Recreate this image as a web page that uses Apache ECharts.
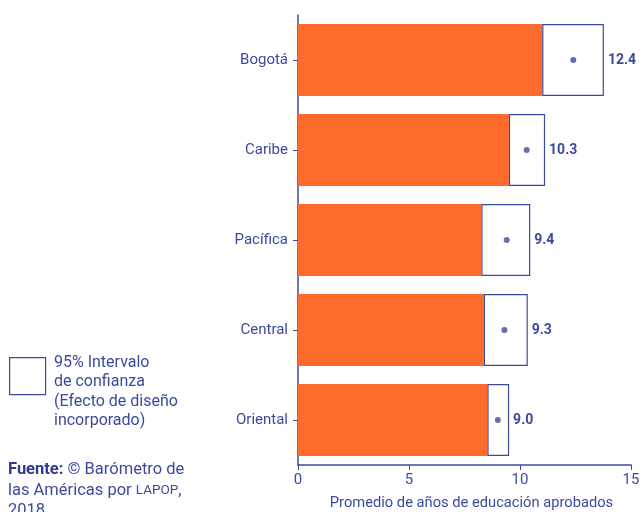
<!DOCTYPE html>
<html>
<head>
<meta charset="utf-8">
<script src="https://cdn.jsdelivr.net/npm/echarts@6/dist/echarts.min.js"></script>
<style>
  html, body { margin: 0; padding: 0; background: #fff; }
  #chart { width: 644px; height: 512px; }
</style>
</head>
<body>
<div id="chart"></div>
<script>
// regiones (de arriba a abajo)
var regiones = ['Bogotá', 'Caribe', 'Pacífica', 'Central', 'Oriental'];
// limite inferior del intervalo de confianza
var limiteInf = [11.0, 9.5, 8.26, 8.37, 8.53];
// limite superior del intervalo de confianza
var limiteSup = [13.78, 11.13, 10.46, 10.35, 9.51];
// promedio (punto y etiqueta)
var promedio = [12.4, 10.3, 9.4, 9.3, 9.0];
var ticksX = [0, 5, 10, 15];

var azul = '#3c4a9e';
var naranja = '#ff6b2c';

var myChart = echarts.init(document.getElementById('chart'));

var anchoIC = limiteSup.map(function (v, i) { return +(v - limiteInf[i]).toFixed(2); });

var option = {
    animation: false,
    grid: { left: 298, right: 13, top: 15, bottom: 47, outerBoundsMode: 'none', containLabel: false },
    xAxis: {
        type: 'value',
        min: ticksX[0],
        max: ticksX[ticksX.length - 1],
        interval: 5,
        name: 'Promedio de años de educación aprobados',
        nameLocation: 'middle',
        nameGap: 31,
        nameTextStyle: { color: azul, fontFamily: 'Roboto', fontSize: 14.7, padding: [0, 0, 0, 14] },
        axisLine: { show: true, lineStyle: { color: azul, width: 1.5 } },
        axisTick: { show: true, length: 5, lineStyle: { color: azul } },
        axisLabel: { color: azul, fontFamily: 'Roboto', fontSize: 15, margin: 8 },
        splitLine: { show: false }
    },
    yAxis: {
        type: 'category',
        data: regiones,
        inverse: true,
        axisLine: { show: true, lineStyle: { color: azul, width: 1.5 } },
        axisTick: { show: true, alignWithLabel: true, length: 5, lineStyle: { color: azul } },
        axisLabel: { color: azul, fontFamily: 'Roboto', fontSize: 15, margin: 10 }
    },
    series: [{
        type: 'bar',
        stack: 'total',
        barWidth: 72,
        data: limiteInf,
        itemStyle: { color: naranja }
    }, {
        type: 'bar',
        stack: 'total',
        barWidth: 72,
        data: anchoIC,
        itemStyle: { color: '#fff', borderColor: azul, borderWidth: 1.2 },
        label: {
            show: true,
            position: 'right',
            distance: 4,
            color: azul,
            fontFamily: 'Roboto',
            fontWeight: 'bold',
            fontSize: 14,
            formatter: function (p) { return promedio[p.dataIndex].toFixed(1); }
        }
    }, {
        type: 'scatter',
        symbol: 'circle',
        symbolSize: 6,
        data: promedio.map(function (v, i) { return [v, regiones[i]]; }),
        itemStyle: { color: azul },
        z: 5
    }],
    graphic: [{
        type: 'rect',
        left: 9,
        top: 357,
        shape: { width: 36, height: 37 },
        style: { fill: '#fff', stroke: azul, lineWidth: 1.2 }
    }, {
        type: 'text',
        left: 54,
        top: 353,
        style: {
            text: '95% Intervalo\nde confianza\n(Efecto de diseño\nincorporado)',
            fill: azul,
            font: '16px Roboto',
            lineHeight: 19.5
        }
    }, {
        type: 'text',
        left: 8,
        top: 460,
        style: {
            text: '{b|Fuente:} © Barómetro de\nlas Américas por {s|LAPOP},\n2018',
            fill: azul,
            font: '16.5px Roboto',
            lineHeight: 20.5,
            rich: {
                b: { fontWeight: 'bold', fontFamily: 'Roboto', fontSize: 16.5, fill: '#2f3a8a' },
                s: { fontFamily: 'Roboto', fontSize: 13.5, fill: azul }
            }
        }
    }]
};

myChart.setOption(option);
</script>
</body>
</html>
